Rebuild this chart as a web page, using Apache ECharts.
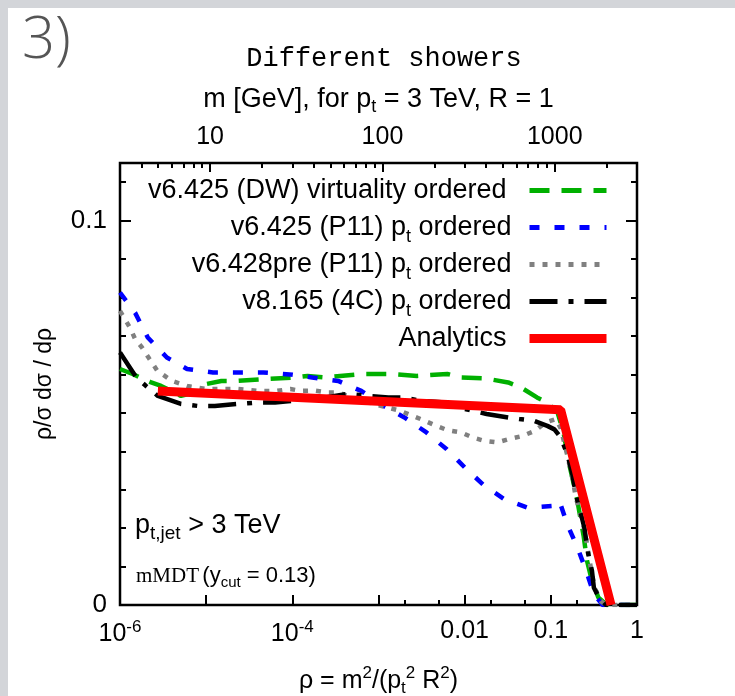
<!DOCTYPE html>
<html><head><meta charset="utf-8">
<script src="https://cdn.jsdelivr.net/npm/echarts@6/dist/echarts.min.js"></script>
<style>
html,body{margin:0;padding:0;background:#d3d5d9;width:735px;height:696px;overflow:hidden;}
#bg{position:absolute;left:8px;top:8px;width:727px;height:688px;background:#fff;}
#chart{position:absolute;left:0;top:0;width:735px;height:696px;}
</style></head><body>
<div id="bg"></div><div id="chart"></div>
<script>
// ---- data (rho = m^2/(pt^2 R^2), value = rho/sigma dsigma/drho) ----
const rhoDW = [1.0e-6,1.4e-6,2.3e-6,3.0e-6,5.1e-6,7.4e-6,1.0e-5,1.5e-5,2.3e-5,5.1e-5,1.07e-4,1.5e-4,2.4e-4,6.3e-4,1.4e-3,2.8e-3,6.3e-3,9.1e-3,0.017,0.032,0.045,0.069,0.091,0.12,0.14,0.166,0.2,0.24,0.263,0.295,0.355,0.447,1.0];
const valDW = [0.0614,0.0601,0.0579,0.0570,0.0544,0.0553,0.0575,0.0583,0.0583,0.0588,0.0592,0.0596,0.0592,0.0601,0.0601,0.0596,0.0601,0.0592,0.0590,0.0579,0.0566,0.0540,0.0527,0.0500,0.0450,0.0360,0.0280,0.0180,0.0115,0.0070,0.0020,0,0];

const rhoP11 = [1.0e-6,1.5e-6,2.1e-6,3.5e-6,6.0e-6,1.2e-5,2.3e-5,4.6e-5,9.3e-5,1.7e-4,3.4e-4,6.3e-4,1.1e-3,2.0e-3,3.6e-3,6.2e-3,0.01,0.017,0.029,0.054,0.11,0.126,0.155,0.204,0.257,0.316,0.40,1.0];
const valP11 = [0.0813,0.0760,0.0696,0.0644,0.0614,0.0605,0.0605,0.0605,0.0600,0.0592,0.0583,0.0557,0.0520,0.0488,0.0449,0.0405,0.0358,0.0310,0.0275,0.0253,0.0258,0.0270,0.0210,0.0149,0.0089,0.0028,0,0];

const rhoP11pre = [1.0e-6,1.3e-6,1.5e-6,1.8e-6,2.2e-6,2.7e-6,4.0e-6,6.0e-6,1.0e-5,1.5e-5,2.3e-5,4.0e-5,6.6e-5,9.5e-5,1.26e-4,1.8e-4,2.5e-4,3.5e-4,4.7e-4,1.0e-3,1.8e-3,2.5e-3,3.4e-3,4.7e-3,6.3e-3,9.1e-3,0.0123,0.017,0.024,0.033,0.047,0.065,0.087,0.115,0.13,0.155,0.178,0.195,0.224,0.25,0.275,0.30,0.33,0.38,0.436,1.0];
const valP11pre = [0.0765,0.0722,0.0692,0.0670,0.0640,0.0610,0.0583,0.0570,0.0562,0.0562,0.0562,0.0557,0.0557,0.0562,0.0557,0.0558,0.0553,0.0553,0.0540,0.0520,0.0505,0.0492,0.0480,0.0466,0.0455,0.0449,0.0436,0.0427,0.0423,0.0432,0.0440,0.0453,0.0475,0.0484,0.0460,0.0390,0.0330,0.0280,0.0230,0.0190,0.0130,0.0080,0.0040,0.0010,0,0];

const rho4C = [1.0e-6,1.55e-6,2.0e-6,2.75e-6,5.1e-6,7.9e-6,1.26e-5,2.3e-5,4.0e-5,6.3e-5,8.9e-5,2.4e-4,4.4e-4,7.4e-4,1.3e-3,1.9e-3,3.2e-3,5.9e-3,0.01,0.018,0.032,0.043,0.062,0.091,0.11,0.13,0.155,0.178,0.195,0.224,0.245,0.27,0.30,0.316,0.363,0.436,1.0];
const val4C = [0.0657,0.0592,0.0570,0.0544,0.0523,0.0518,0.0518,0.0523,0.0527,0.0527,0.0530,0.0540,0.0549,0.0544,0.0540,0.0540,0.0531,0.0527,0.0510,0.0497,0.0488,0.0484,0.0480,0.0466,0.0457,0.0436,0.0393,0.0340,0.0288,0.0236,0.0201,0.0136,0.0089,0.0045,0.0019,0,0];

const rhoAna = [2.75e-6,0.13,0.50];
const valAna = [0.0557,0.0508,0];

const seriesNames = ['v6.425 (DW) virtuality ordered','v6.425 (P11) pt ordered','v6.428pre (P11) pt ordered','v8.165 (4C) pt ordered','Analytics'];

// ---- axis ticks / labels ----
const xMajorTicks = [1e-6,1e-5,1e-4,1e-3,1e-2,1e-1,1];
const xLabelTicks = [1e-6,1e-4,1e-2,1e-1,1];
const xMinorTicks = [2e-3,5e-3,2e-2,5e-2,2e-1,5e-1];
const mMajorTicks = [10,100,1000];
const mMinorTicks = [4,5,6,7,8,9,20,30,40,50,60,70,80,90,200,300,400,500,600,700,800,900,2000];
const yMinorTicks = [0,0.01,0.02,0.03,0.04,0.05,0.06,0.07,0.08,0.09,0.1,0.11];
const yLabelTicks = [0,0.1];

const F = 'Liberation Sans';
function zip(a,b){ return a.map((x,i)=>[x,b[i]]); }

const chart = echarts.init(document.getElementById('chart'), null, {renderer:'canvas'});
const tickStyle = {color:'#000', width:2};
const gridPos = {left:120, right:98, top:163, bottom:91, containLabel:false, outerBoundsMode:'none'};
const noLine = {show:false, onZero:false};

const option = {
  animation:false,
  title:{text:'Different showers', left:379, top:40, textAlign:'center',
    textStyle:{fontFamily:'Liberation Mono', fontSize:27, fontWeight:'normal', color:'#000'}},
  grid:[
    Object.assign({show:true, borderColor:'#000', borderWidth:2.5, backgroundColor:'transparent'}, gridPos),
    Object.assign({show:false}, gridPos),
    Object.assign({show:false}, gridPos)
  ],
  xAxis:[
    {type:'log', gridIndex:0, position:'bottom', min:1e-6, max:1, logBase:10,
     axisLine:noLine, splitLine:{show:false},
     axisTick:{show:true, inside:true, length:10, lineStyle:tickStyle, customValues:xMajorTicks},
     axisLabel:{customValues:xLabelTicks, margin:14, color:'#000', fontFamily:F, fontSize:25,
       formatter:function(v){
         if (v < 0.005) { const e = Math.round(Math.log10(v)); return '{b|10}{e|' + e + '}'; }
         return (v >= 1 ? '1' : String(v));
       },
       rich:{b:{fontFamily:F, fontSize:25, lineHeight:30, color:'#000'}, e:{fontFamily:F, fontSize:17, lineHeight:16, verticalAlign:'top', color:'#000'}}},
     name:'{n|ρ = m}{sp|2}{n|/(p}{sb|t}{sp|2}{n| R}{sp|2}{n|)}', nameLocation:'middle', nameGap:60,
     nameTextStyle:{fontFamily:F, fontSize:25, color:'#000',
       rich:{n:{fontFamily:F, fontSize:25, lineHeight:32, color:'#000'},
             sp:{fontFamily:F, fontSize:17, lineHeight:16, verticalAlign:'top', color:'#000'},
             sb:{fontFamily:F, fontSize:17, lineHeight:16, verticalAlign:'bottom', color:'#000'}}}
    },
    {type:'log', gridIndex:0, position:'top', min:3, max:3000, logBase:10,
     axisLine:noLine, splitLine:{show:false},
     axisTick:{show:true, inside:true, length:9, lineStyle:tickStyle, customValues:mMajorTicks},
     axisLabel:{customValues:mMajorTicks, margin:13, color:'#000', fontFamily:F, fontSize:25,
       formatter:function(v){ return String(Math.round(v)); }},
     name:'{n|m [GeV], for p}{sb|t}{n| = 3 TeV, R = 1}', nameLocation:'middle', nameGap:47,
     nameTextStyle:{fontFamily:F, fontSize:27, color:'#000',
       rich:{n:{fontFamily:F, fontSize:27, lineHeight:32, color:'#000'},
             sb:{fontFamily:F, fontSize:18, lineHeight:16, verticalAlign:'bottom', color:'#000'}}}
    },
    {type:'log', gridIndex:1, position:'bottom', min:1e-6, max:1, logBase:10,
     axisLine:noLine, splitLine:{show:false}, axisLabel:{show:false},
     axisTick:{show:true, inside:true, length:5, lineStyle:tickStyle, customValues:xMinorTicks}},
    {type:'log', gridIndex:2, position:'top', min:3, max:3000, logBase:10,
     axisLine:noLine, splitLine:{show:false}, axisLabel:{show:false},
     axisTick:{show:true, inside:true, length:5, lineStyle:tickStyle, customValues:mMinorTicks}}
  ],
  yAxis:[
    {type:'value', gridIndex:0, position:'left', min:0, max:0.115,
     axisLine:noLine, splitLine:{show:false},
     axisTick:{show:true, inside:true, length:6, lineStyle:tickStyle, customValues:yMinorTicks},
     axisLabel:{customValues:yLabelTicks, margin:13, color:'#000', fontFamily:F, fontSize:26},
     name:'ρ/σ dσ / dρ', nameLocation:'middle', nameGap:64, nameRotate:90,
     nameTextStyle:{fontFamily:F, fontSize:23, color:'#000'}},
    {type:'value', gridIndex:0, position:'right', min:0, max:0.115,
     axisLine:noLine, splitLine:{show:false}, axisLabel:{show:false},
     axisTick:{show:true, inside:true, length:6, lineStyle:tickStyle, customValues:yMinorTicks}},
    {type:'value', gridIndex:1, position:'left', min:0, max:0.115,
     axisLine:noLine, splitLine:{show:false}, axisLabel:{show:false},
     axisTick:{show:true, inside:true, length:11, lineStyle:tickStyle, customValues:yLabelTicks}},
    {type:'value', gridIndex:2, position:'right', min:0, max:0.115,
     axisLine:noLine, splitLine:{show:false}, axisLabel:{show:false},
     axisTick:{show:true, inside:true, length:11, lineStyle:tickStyle, customValues:yLabelTicks}}
  ],
  legend:{
    orient:'vertical', right:124, top:177, align:'right', padding:0,
    itemWidth:77, itemHeight:14, itemGap:5,
    itemStyle:{opacity:0},
    data:seriesNames.map((n,i)=>({name:n, lineStyle:{width: i===4 ? 9 : 5}})),
    formatter:function(name){
      const i = name.indexOf(' pt ');
      if (i < 0) return '{n|' + name + '}{s| }{g|}';
      return '{n|' + name.slice(0,i) + ' p}{s|t}{n|' + name.slice(i+3) + '}{g|}';
    },
    textStyle:{fontFamily:F, fontSize:27, color:'#000',
      rich:{n:{fontFamily:F, fontSize:27, lineHeight:37, color:'#000'},
            s:{fontFamily:F, fontSize:18, lineHeight:18, verticalAlign:'bottom', color:'#000'},
            g:{width:13}}}
  },
  graphic:[
    {type:'text', left:22, top:12, style:{text:'3)', fontFamily:'Open Sans', fontWeight:300, fontSize:58, fill:'#555'}},
    {type:'text', left:135, top:512, style:{
      text:'{n|p}{s|t,jet}{n| > 3 TeV}',
      rich:{n:{fontFamily:F, fontSize:27, lineHeight:36, fill:'#000'}, s:{fontFamily:F, fontSize:19, lineHeight:19, verticalAlign:'bottom', fill:'#000'}}}},
    {type:'text', left:136, top:565, style:{
      text:'{m|mMDT} {n|(y}{s|cut}{n| = 0.13)}',
      rich:{m:{fontFamily:'Liberation Serif', fontSize:21, lineHeight:28, fill:'#000'},
            n:{fontFamily:F, fontSize:22, lineHeight:28, fill:'#000'},
            s:{fontFamily:F, fontSize:15, lineHeight:15, verticalAlign:'bottom', fill:'#000'}}}}
  ],
  series:[
    {name:seriesNames[0], type:'line', xAxisIndex:0, yAxisIndex:0, data:zip(rhoDW,valDW), symbol:'none', smooth:false,
     lineStyle:{color:'#00b000', width:4.5, type:[20,12], cap:'butt'}, itemStyle:{color:'#00b000'}},
    {name:seriesNames[1], type:'line', xAxisIndex:0, yAxisIndex:0, data:zip(rhoP11,valP11), symbol:'none',
     lineStyle:{color:'#0000ff', width:4.5, type:[10,15], cap:'butt'}, itemStyle:{color:'#0000ff'}},
    {name:seriesNames[2], type:'line', xAxisIndex:0, yAxisIndex:0, data:zip(rhoP11pre,valP11pre), symbol:'none',
     lineStyle:{color:'#808080', width:4.5, type:[5,8], cap:'butt'}, itemStyle:{color:'#808080'}},
    {name:seriesNames[3], type:'line', xAxisIndex:0, yAxisIndex:0, data:zip(rho4C,val4C), symbol:'none',
     lineStyle:{color:'#000000', width:4.5, type:[28,11,5,11], cap:'butt'}, itemStyle:{color:'#000000'}},
    {name:seriesNames[4], type:'line', xAxisIndex:0, yAxisIndex:0, data:zip(rhoAna,valAna), symbol:'none',
     lineStyle:{color:'#ff0000', width:9}, itemStyle:{color:'#ff0000'}}
  ]
};
chart.setOption(option);
</script>
</body></html>
